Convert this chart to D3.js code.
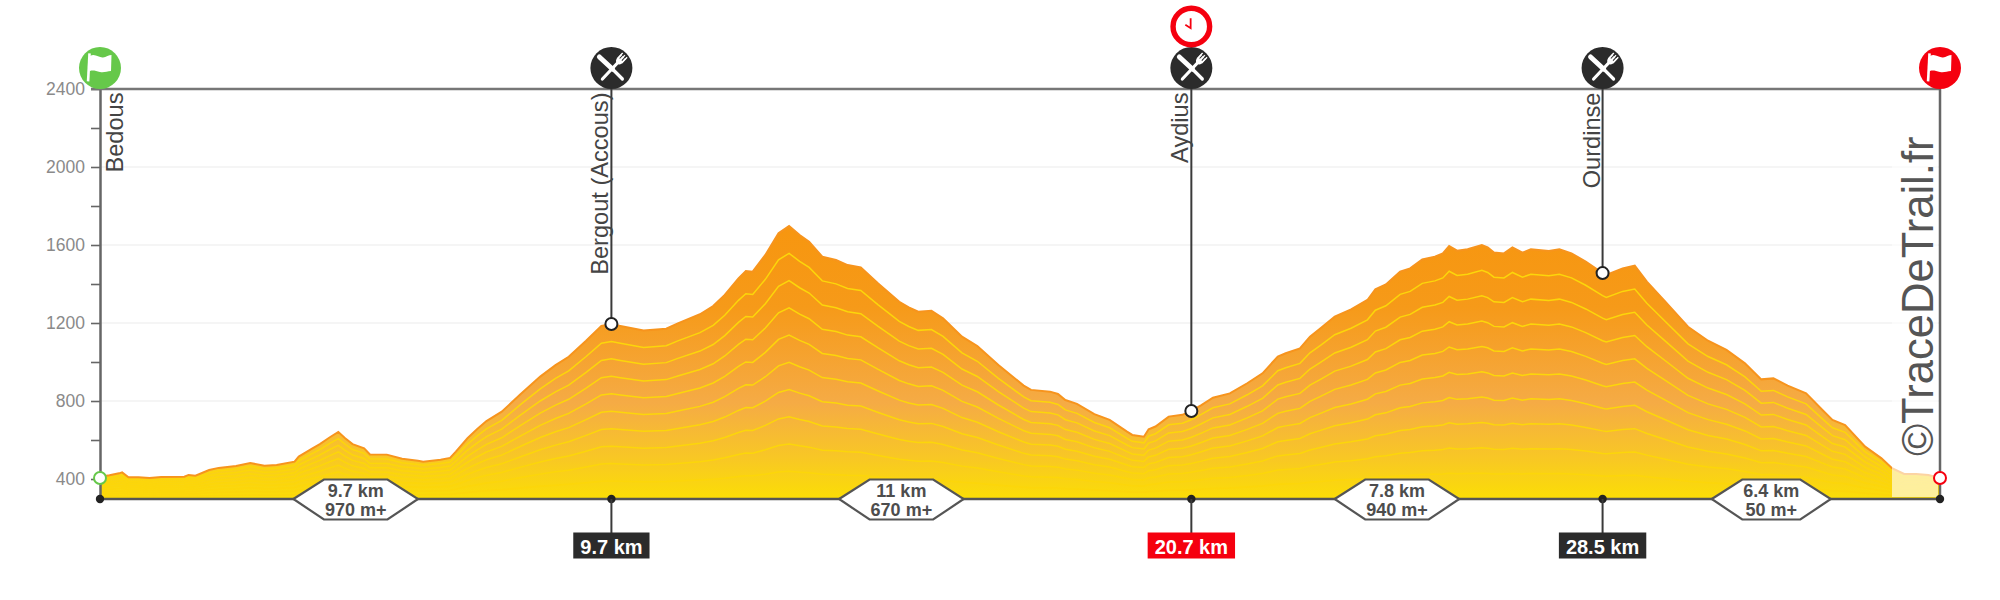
<!DOCTYPE html>
<html>
<head>
<meta charset="utf-8">
<title>Profil</title>
<script src="https://cdn.jsdelivr.net/npm/d3@7"></script>
<style>
  html, body { margin: 0; padding: 0; background: #fff; }
  svg { display: block; font-family: "Liberation Sans", Arial, sans-serif; }
</style>
</head>
<body>
<svg id="chart" width="2000" height="600"></svg>
<script>
/* elevation profile */
var profileKm = [0, .18, .36, .42, .54, .73, .94, 1.16, 1.6, 1.68, 1.81, 2.07, 2.25, 2.58, 2.85, 3.12, 3.35, 3.69, 3.77, 4.03, 4.17, 4.36, 4.52, 4.65, 4.79, 5.01, 5.12, 5.44, 5.73, 6.03, 6.13, 6.46, 6.64, 6.75, 6.97, 7.15, 7.33, 7.62, 7.98, 8.35, 8.64, 8.89, 9.22, 9.51, 9.7, 9.87, 10.31, 10.74, 10.96, 11.38,
  11.63, 11.85, 12.11, 12.25, 12.38, 12.62, 12.87, 13.07, 13.27, 13.45, 13.7, 13.96, 14.18, 14.43, 14.76, 15.16, 15.34, 15.52, 15.77, 15.99, 16.35, 16.64, 17.04, 17.52, 17.66, 18.02, 18.17, 18.31, 18.53, 18.86, 19.15, 19.48, 19.58, 19.8, 19.89, 20.02, 20.27, 20.53, 20.7, 20.89, 21.11, 21.43, 21.76, 22.05, 22.34, 22.49, 22.76,
  22.95, 23.15, 23.42, 23.73, 24.04, 24.19, 24.39, 24.66, 24.85, 25.08, 25.32, 25.47, 25.59, 25.74, 25.94, 26.21, 26.32, 26.44, 26.63, 26.79, 26.98, 27.14, 27.48, 27.68, 27.91, 28.18, 28.5, 28.57, 28.88, 29.11, 29.34, 29.69, 30.12, 30.5, 30.85, 31.2, 31.51, 31.74, 32.01, 32.36, 32.67, 32.86, 33.1, 33.48, 33.79, 33.99, 34.22, 34.45, 34.68, 34.9];
var profileEle = [412, 419, 429, 434, 409, 409, 405, 410, 412, 421, 417, 446, 457, 467, 482, 468, 472, 489, 515, 557, 579, 614, 641, 609, 579, 557, 526, 525, 504, 494, 489, 499, 508, 540, 609, 655, 697, 745, 836, 925, 984, 1027, 1109, 1185, 1195, 1185, 1161, 1171, 1198, 1245,
  1287, 1344, 1429, 1467, 1463, 1549, 1660, 1697, 1651, 1617, 1540, 1523, 1497, 1485, 1403, 1309, 1280, 1258, 1263, 1224, 1130, 1082, 985, 879, 857, 848, 836, 805, 785, 733, 703, 643, 626, 617, 655, 669, 720, 729, 749, 779, 817, 839, 891, 942, 1028, 1045, 1070,
  1130, 1173, 1233, 1270, 1318, 1373, 1398, 1463, 1480, 1526, 1540, 1557, 1595, 1571, 1578, 1600, 1588, 1561, 1557, 1588, 1561, 1578, 1569, 1578, 1557, 1515, 1456, 1446, 1480, 1494, 1412, 1309, 1181, 1109, 1062, 993, 911, 916, 879, 839, 754, 703, 677, 566, 506, 455, 426, 426, 420, 405];

var yTicks = [400, 600, 800, 1000, 1200, 1400, 1600, 1800, 2000, 2200, 2400];
var yLabels = [400, 800, 1200, 1600, 2000, 2400];
var gridValues = [400, 800, 1200, 1600, 2000];

var stopKm = [0, 9.7, 20.7, 28.5, 34.9];
var stopEle = [405, 1195, 749, 1456, 405];
var stopNames = ['Bedous', 'Bergout (Accous)', 'Aydius', 'Ourdinse', ''];
var stopTypes = ['start', 'food', 'food', 'food', 'end'];
var distLabels = ['9.7 km', '20.7 km', '28.5 km'];
var distKm = [9.7, 20.7, 28.5];
var distColors = ['#2b2b2b', '#f5000f', '#2b2b2b'];
var legKm = [9.7, 11, 7.8, 6.4];
var legGain = ['970 m+', '670 m+', '940 m+', '50 m+'];
var legText = ['9.7 km', '11 km', '7.8 km', '6.4 km'];
var bandCount = 10;

var svg = d3.select('#chart');
var x = d3.scaleLinear().domain([0, 34.9]).range([100, 1940]);
var y = d3.scaleLinear().domain([300, 2400]).range([498.5, 89]);
var points = profileKm.map(function(k, i) { return { km: k, ele: profileEle[i] }; });

/* fill gradient */
var grad = svg.append('defs').append('linearGradient')
  .attr('id', 'fill')
  .attr('gradientUnits', 'userSpaceOnUse')
  .attr('x1', 0).attr('x2', 0)
  .attr('y1', 226).attr('y2', 498);
[[0, '#f7960f'], [.3, '#f69a19'], [.65, '#f5ab45'], [.85, '#f8c725'], [1, '#fbdd06']].forEach(function(s) {
  grad.append('stop').attr('offset', s[0]).attr('stop-color', s[1]);
});

/* grid */
svg.append('g').selectAll('line').data(gridValues).enter().append('line')
  .attr('x1', 100).attr('x2', 1940)
  .attr('y1', function(d) { return y(d); }).attr('y2', function(d) { return y(d); })
  .attr('stroke', '#ececec').attr('stroke-width', 1.2);

/* profile */
var area = d3.area()
  .x(function(d) { return x(d.km); })
  .y0(y(300))
  .y1(function(d) { return y(d.ele); });
svg.append('path').datum(points).attr('d', area).attr('fill', 'url(#fill)');

for (var k = 1; k < bandCount; k++) {
  (function(k) {
    var band = d3.line()
      .x(function(d) { return x(d.km); })
      .y(function(d) { return y(300 + (d.ele - 300) * k / bandCount); });
    svg.append('path').datum(points).attr('d', band)
      .attr('fill', 'none').attr('stroke', '#fcd60a').attr('stroke-width', 1.5);
  })(k);
}

var topLine = d3.line()
  .x(function(d) { return x(d.km); })
  .y(function(d) { return y(d.ele); });
svg.append('path').datum(points).attr('d', topLine)
  .attr('fill', 'none').attr('stroke', '#f7941d').attr('stroke-width', 2);

/* wash behind the watermark */
svg.append('rect').attr('x', 1892).attr('y', 90).attr('width', 46).attr('height', 407)
  .attr('fill', '#fff').attr('opacity', .6);

/* axis */
var axis = d3.axisLeft(y)
  .tickValues(yTicks)
  .tickSize(9)
  .tickSizeOuter(0)
  .tickPadding(6)
  .tickFormat(function(d) { return yLabels.indexOf(d) >= 0 ? d : ''; });
var axisG = svg.append('g').attr('transform', 'translate(100,0)').call(axis);
axisG.select('.domain').attr('stroke', '#666').attr('stroke-width', 2.5);
axisG.selectAll('.tick line').attr('stroke', '#666').attr('stroke-width', 1.6);
axisG.selectAll('.tick text')
  .attr('fill', '#8a8a8a')
  .style('font-size', '17.5px')
  .style('font-family', '"Liberation Sans", Arial, sans-serif');

svg.append('line').attr('x1', 91).attr('x2', 1940).attr('y1', 89).attr('y2', 89)
  .attr('stroke', '#777').attr('stroke-width', 2.5);
svg.append('line').attr('x1', 100).attr('x2', 1940).attr('y1', 499).attr('y2', 499)
  .attr('stroke', '#555').attr('stroke-width', 2.5);
svg.append('line').attr('x1', 1940).attr('x2', 1940).attr('y1', 89).attr('y2', 499)
  .attr('stroke', '#666').attr('stroke-width', 2.5);

/* watermark */
svg.append('text')
  .attr('transform', 'translate(1932.5,456) rotate(-90)')
  .attr('fill', '#555')
  .style('font-size', '43.6px')
  .text('\u00a9TraceDeTrail.fr');

/* stems from the top line to each food stop */
stopKm.forEach(function(k, i) {
  if (stopTypes[i] !== 'food') return;
  svg.append('line')
    .attr('x1', x(k)).attr('x2', x(k))
    .attr('y1', 89).attr('y2', y(stopEle[i]))
    .attr('stroke', '#3a3a3a').attr('stroke-width', 2);
});

/* stop names */
stopNames.forEach(function(name, i) {
  if (!name) return;
  var tx = i === 0 ? x(stopKm[i]) + 23 : x(stopKm[i]) - 3;
  svg.append('text')
    .attr('transform', 'translate(' + tx + ',92.5) rotate(-90)')
    .attr('text-anchor', 'end')
    .attr('fill', '#444')
    .style('font-size', '23.6px')
    .text(name);
});

/* hexagons with the leg length and gain */
var legStart = 0;
legKm.forEach(function(len, i) {
  var cx = x(legStart + len / 2);
  legStart += len;
  var g = svg.append('g');
  var hex = g.append('polygon');
  var t1 = g.append('text').attr('x', cx).attr('y', 497).text(legText[i]);
  var t2 = g.append('text').attr('x', cx).attr('y', 516).text(legGain[i]);
  g.selectAll('text')
    .attr('text-anchor', 'middle')
    .attr('fill', '#4d4d4d')
    .attr('font-weight', 'bold')
    .style('font-size', '18px');
  var inner = Math.max(t1.node().getComputedTextLength(), t2.node().getComputedTextLength()) / 2 + 1;
  var outer = inner + 30.5;
  hex.attr('points', [
    [cx - outer, 499], [cx - inner, 479.5], [cx + inner, 479.5],
    [cx + outer, 499], [cx + inner, 519.5], [cx - inner, 519.5]
  ].join(' '))
    .attr('fill', '#fff').attr('stroke', '#555').attr('stroke-width', 2.2);
});

/* dots on the base line */
svg.append('g').selectAll('circle').data(stopKm).enter().append('circle')
  .attr('cx', function(d) { return x(d); }).attr('cy', 499).attr('r', 4.2)
  .attr('fill', '#222');

/* distance boxes */
distKm.forEach(function(k, i) {
  var cx = x(k);
  svg.append('line').attr('x1', cx).attr('x2', cx).attr('y1', 499).attr('y2', 533)
    .attr('stroke', '#3a3a3a').attr('stroke-width', 2);
  var box = svg.append('rect');
  var t = svg.append('text')
    .attr('x', cx).attr('y', 553.5)
    .attr('text-anchor', 'middle')
    .attr('fill', '#fff')
    .attr('font-weight', 'bold')
    .style('font-size', '20px')
    .text(distLabels[i]);
  var w = t.node().getComputedTextLength() + 14;
  box.attr('x', cx - w / 2).attr('y', 532.5).attr('width', w).attr('height', 26)
    .attr('fill', distColors[i]);
});

/* profile markers */
stopKm.forEach(function(k, i) {
  var col = stopTypes[i] === 'start' ? '#66c84a' : stopTypes[i] === 'end' ? '#f5000f' : '#222';
  svg.append('circle')
    .attr('cx', x(k)).attr('cy', y(stopEle[i])).attr('r', 6)
    .attr('fill', '#fff').attr('stroke', col).attr('stroke-width', 2);
});

/* icons */
function flagIcon(g) {
  g.append('rect').attr('x', -12.5).attr('y', -14).attr('width', 2.6).attr('height', 28)
    .attr('fill', '#fff').attr('transform', 'rotate(3)');
  g.append('path')
    .attr('d', 'M-10,-12 C-5,-15 -1,-10 3,-10.5 C6,-11 9,-13 11.5,-13 L11,3 C7,3 4,5 0,4 C-4,3 -7,2 -10,3 Z')
    .attr('fill', '#fff');
}

function foodIcon(g) {
  // knife
  g.append('line').attr('x1', -12).attr('y1', -11).attr('x2', 1).attr('y2', 1)
    .attr('stroke', '#fff').attr('stroke-width', 5).attr('stroke-linecap', 'round');
  g.append('line').attr('x1', 0).attr('y1', 0).attr('x2', 11).attr('y2', 11)
    .attr('stroke', '#fff').attr('stroke-width', 3.2).attr('stroke-linecap', 'round');
  // fork
  g.append('line').attr('x1', -9).attr('y1', 11).attr('x2', 7).attr('y2', -6)
    .attr('stroke', '#fff').attr('stroke-width', 3.2).attr('stroke-linecap', 'round');
  var head = g.append('g').attr('transform', 'translate(8,-7) rotate(43)');
  head.append('path').attr('d', 'M-3.6,-6 L-3.6,-1 Q-3.6,3 0,3.5 Q3.6,3 3.6,-1 L3.6,-6').attr('fill', '#fff');
  head.selectAll('line.t').data([-3, 0, 3]).enter().append('line')
    .attr('x1', function(d) { return d; }).attr('x2', function(d) { return d; })
    .attr('y1', -8).attr('y2', 0)
    .attr('stroke', '#fff').attr('stroke-width', 1.5);
  head.selectAll('line.g').data([-1.5, 1.5]).enter().append('line')
    .attr('x1', function(d) { return d; }).attr('x2', function(d) { return d; })
    .attr('y1', -8).attr('y2', -2)
    .attr('stroke', '#2b2b2b').attr('stroke-width', 1);
}

stopKm.forEach(function(k, i) {
  var type = stopTypes[i];
  var g = svg.append('g').attr('transform', 'translate(' + x(k) + ',68)');
  var col = type === 'start' ? '#66c84a' : type === 'end' ? '#f5000f' : '#2b2b2b';
  g.append('circle').attr('r', 21).attr('fill', col);
  if (type === 'food') foodIcon(g); else flagIcon(g);
});

/* clock above the timed stop */
var clock = svg.append('g').attr('transform', 'translate(' + x(stopKm[2]) + ',26.5)');
clock.append('circle').attr('r', 18.3).attr('fill', '#fff').attr('stroke', '#f5000f').attr('stroke-width', 5.4);
clock.append('path').attr('d', 'M-0.7,-8.3 L-0.7,1.7 L-6,-1.7')
  .attr('fill', 'none').attr('stroke', '#f5000f').attr('stroke-width', 1.8);
</script>
</body>
</html>
